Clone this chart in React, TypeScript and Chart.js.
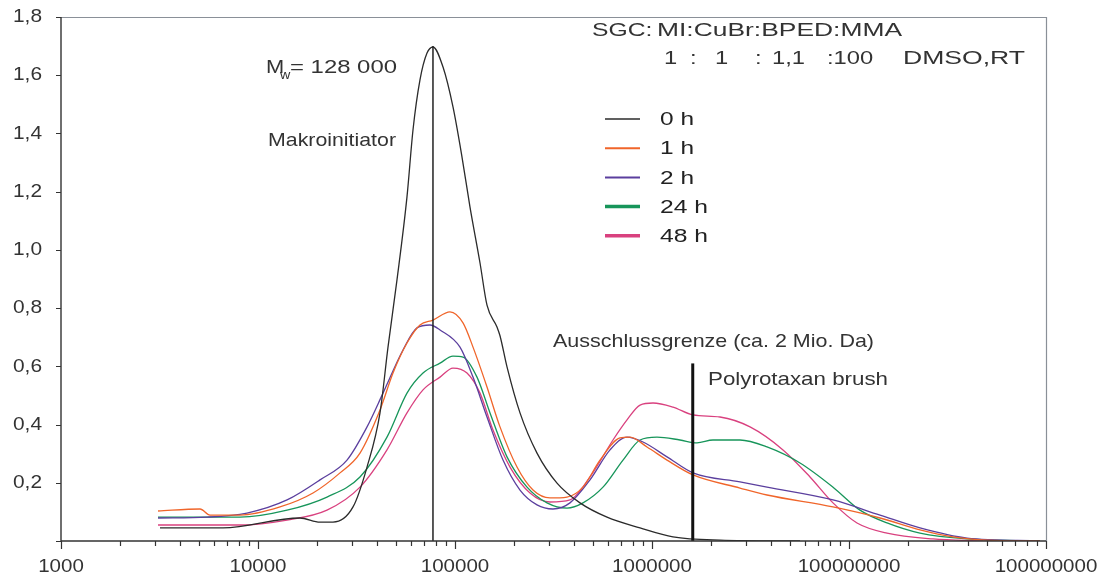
import React, { useEffect, useRef } from "react";
import { Chart, registerables } from "chart.js";

Chart.register(...registerables);

// ---------- data (molar mass in g/mol, detector signal) ----------
const massH0 = [3180, 6640, 16340, 20640, 24030, 30360, 35760, 41620, 45700, 50760, 57050, 61200, 66410, 72100, 77330, 86940, 97680, 108530, 119170, 133970, 145360, 163390, 169200, 183650, 213780, 260800, 329500, 431000, 591000, 869600, 1278000, 2214000, 5640000];
const valH0 = [0.045, 0.045, 0.079, 0.065, 0.065, 0.117, 0.254, 0.44, 0.666, 0.897, 1.182, 1.412, 1.584, 1.676, 1.697, 1.628, 1.491, 1.319, 1.147, 0.955, 0.81, 0.735, 0.705, 0.598, 0.44, 0.302, 0.199, 0.131, 0.082, 0.045, 0.014, 0.003, 0];

const massH1 = [3108, 5078, 5705, 8100, 12930, 19020, 26080, 32940, 41620, 48450, 57050, 66410, 77330, 94300, 109800, 123430, 145360, 169200, 206430, 248900, 303500, 370300, 446300, 544500, 688100, 773300, 943200, 1192000, 1615000, 2797000, 3835000, 8295000, 14370000, 22930000, 33730000, 50170000, 93200000];
const valH1 = [0.103, 0.11, 0.089, 0.089, 0.117, 0.165, 0.234, 0.302, 0.45, 0.577, 0.68, 0.742, 0.759, 0.787, 0.749, 0.666, 0.529, 0.392, 0.254, 0.175, 0.148, 0.151, 0.185, 0.278, 0.354, 0.357, 0.323, 0.278, 0.227, 0.182, 0.158, 0.117, 0.079, 0.038, 0.014, 0.003, 0];

const massH2 = [3108, 5510, 8795, 14040, 20640, 28300, 35760, 43110, 54450, 64150, 74660, 83950, 106020, 123430, 145360, 175290, 213780, 260800, 314400, 383500, 484500, 612100, 746700, 900600, 1192000, 1615000, 2797000, 3835000, 8295000, 14370000, 22930000, 39720000, 93200000];
const valH2 = [0.079, 0.082, 0.096, 0.141, 0.21, 0.278, 0.392, 0.508, 0.656, 0.732, 0.742, 0.725, 0.666, 0.563, 0.426, 0.278, 0.175, 0.124, 0.11, 0.131, 0.21, 0.313, 0.357, 0.34, 0.289, 0.234, 0.203, 0.185, 0.141, 0.089, 0.045, 0.01, 0];

const massH24 = [3108, 8100, 14040, 22400, 32940, 45160, 57050, 68800, 83950, 97680, 109800, 129320, 150560, 183650, 232100, 293100, 370300, 446300, 564000, 712600, 869600, 1060200, 1387000, 1692000, 2040000, 2797000, 3835000, 5640000, 8295000, 11370000, 15600000, 22930000, 39720000, 93200000];
const valH24 = [0.082, 0.082, 0.106, 0.151, 0.22, 0.357, 0.508, 0.577, 0.611, 0.635, 0.632, 0.563, 0.44, 0.289, 0.185, 0.131, 0.113, 0.131, 0.185, 0.278, 0.347, 0.357, 0.347, 0.337, 0.347, 0.347, 0.323, 0.268, 0.185, 0.106, 0.062, 0.027, 0.007, 0];

const massH48 = [3108, 8100, 14040, 22400, 32940, 45160, 57050, 68800, 83950, 97680, 115070, 133970, 155940, 190200, 240300, 303500, 383500, 484500, 633900, 746700, 869600, 1011800, 1278000, 1615000, 2214000, 3145000, 4624000, 6339000, 8295000, 10980000, 15600000, 26700000, 47880000];
const valH48 = [0.055, 0.055, 0.072, 0.106, 0.185, 0.313, 0.44, 0.519, 0.563, 0.594, 0.577, 0.508, 0.381, 0.254, 0.165, 0.134, 0.141, 0.22, 0.347, 0.416, 0.467, 0.474, 0.46, 0.433, 0.426, 0.392, 0.313, 0.22, 0.131, 0.062, 0.027, 0.007, 0];

const seriesLabels = ["0 h", "1 h", "2 h", "24 h", "48 h"];
const seriesColors = ["#2b2b2b", "#f0652a", "#5b3f9e", "#17955a", "#d9417f"];
const legendLineWidths = [1.5, 2, 2, 3.5, 3.5];

// marker lines
const mwLineMass = 77300;
const mwLineTop = 1.7;
const limitLineMass = 1610000;
const limitLineTop = 0.61;

// axis ticks
const xTickValues = [1000, 10000, 100000, 1000000, 10000000, 100000000];
const xTickLabels = ["1000", "10000", "100000", "1000000", "100000000", "100000000"];
const yTickValues = [0.2, 0.4, 0.6, 0.8, 1.0, 1.2, 1.4, 1.6, 1.8];
const yTickLabels = ["0,2", "0,4", "0,6", "0,8", "1,0", "1,2", "1,4", "1,6", "1,8"];

const FONT = '"Liberation Sans", Arial, Helvetica, sans-serif';

function drawStretched(ctx: CanvasRenderingContext2D, text: string, x: number, y: number, size: number, sx: number, align: string, color = "#333") {
  ctx.save();
  ctx.font = `${size}px ${FONT}`;
  ctx.fillStyle = color;
  ctx.textBaseline = "middle";
  ctx.textAlign = "left";
  const w = ctx.measureText(text).width * sx;
  const left = align === "center" ? x - w / 2 : align === "right" ? x - w : x;
  ctx.translate(left, y);
  ctx.scale(sx, 1);
  ctx.fillText(text, 0, 0);
  ctx.restore();
}

function drawFitted(ctx: CanvasRenderingContext2D, text: string, x: number, y: number, size: number, width: number, color = "#333") {
  ctx.save();
  ctx.font = `${size}px ${FONT}`;
  const w0 = ctx.measureText(text).width;
  ctx.restore();
  drawStretched(ctx, text, x, y, size, width / w0, "left", color);
}

const decorPlugin = {
  id: "decor",
  afterDraw(chart: any) {
    const ctx: CanvasRenderingContext2D = chart.ctx;
    const { left, right, top, bottom } = chart.chartArea;
    const xs = chart.scales.x;
    const ys = chart.scales.y;
    ctx.save();
    // frame (top / right)
    ctx.strokeStyle = "#8a9098";
    ctx.lineWidth = 1.2;
    ctx.beginPath();
    ctx.moveTo(left, top + 0.5);
    ctx.lineTo(right + 0.5, top + 0.5);
    ctx.lineTo(right + 0.5, bottom);
    ctx.stroke();
    // axes
    ctx.strokeStyle = "#333";
    ctx.lineWidth = 1.4;
    ctx.beginPath();
    ctx.moveTo(left, top);
    ctx.lineTo(left, bottom);
    ctx.lineTo(right, bottom);
    ctx.stroke();
    // y ticks
    ctx.lineWidth = 1.2;
    ctx.beginPath();
    for (let v = 0; v <= 1.8001; v += 0.2) {
      const py = Math.round(ys.getPixelForValue(v)) + 0.5;
      ctx.moveTo(left - 5, py);
      ctx.lineTo(left, py);
    }
    ctx.stroke();
    // x ticks
    ctx.beginPath();
    for (let d = 1000; d <= 100000000; d *= 10) {
      for (let k = 1; k <= 9; k++) {
        const v = k * d;
        if (v > 100000000) break;
        const px = Math.round(xs.getPixelForValue(v)) + 0.5;
        ctx.moveTo(px, bottom);
        ctx.lineTo(px, bottom + (k === 1 ? 8 : 5));
      }
    }
    ctx.stroke();
    ctx.restore();

    // tick labels
    yTickValues.forEach((v, i) => {
      drawStretched(ctx, yTickLabels[i], 42, ys.getPixelForValue(v), 19, 1.1, "right");
    });
    xTickValues.forEach((v, i) => {
      drawStretched(ctx, xTickLabels[i], xs.getPixelForValue(v), 567, 19, 1.08, "center");
    });

    // annotations
    drawStretched(ctx, "SGC:", 592, 31, 19, 1.3, "left");
    drawFitted(ctx, "MI:CuBr:BPED:MMA", 657, 31, 19, 245);
    drawStretched(ctx, "1", 664, 59, 19, 1.25, "left");
    drawStretched(ctx, ":", 690, 59, 19, 1.25, "left");
    drawStretched(ctx, "1", 715, 59, 19, 1.25, "left");
    drawStretched(ctx, ":", 755, 59, 19, 1.25, "left");
    drawStretched(ctx, "1,1", 772, 59, 19, 1.25, "left");
    drawStretched(ctx, ":100", 827, 59, 19, 1.25, "left");
    drawFitted(ctx, "DMSO,RT", 903, 59, 19, 122);

    drawStretched(ctx, "M", 266, 68, 19, 1.15, "left");
    drawStretched(ctx, "w", 280, 75, 13, 1.1, "left");
    drawFitted(ctx, "= 128 000", 290, 68, 19, 107);
    drawFitted(ctx, "Makroinitiator", 268, 141, 19, 128);
    drawFitted(ctx, "Ausschlussgrenze (ca. 2 Mio. Da)", 553, 342, 19, 321);
    drawFitted(ctx, "Polyrotaxan brush", 708, 380, 19, 180);

    // legend
    seriesLabels.forEach((lab, i) => {
      const y = 119 + i * 29.2;
      ctx.save();
      ctx.strokeStyle = seriesColors[i];
      ctx.lineWidth = legendLineWidths[i];
      ctx.beginPath();
      ctx.moveTo(605, y);
      ctx.lineTo(640, y);
      ctx.stroke();
      ctx.restore();
      drawFitted(ctx, lab, 660, y + 1, 19, lab.length > 3 ? 48 : 34, "#222");
    });
  },
};

export default function App() {
  const ref = useRef<HTMLCanvasElement | null>(null);
  useEffect(() => {
    if (!ref.current) return;
    const series = [
      [massH0, valH0],
      [massH1, valH1],
      [massH2, valH2],
      [massH24, valH24],
      [massH48, valH48],
    ];
    const datasets: any[] = series.map(([m, v], i) => ({
      label: seriesLabels[i],
      data: (m as number[]).map((x, j) => ({ x, y: (v as number[])[j] })),
      borderColor: seriesColors[i],
      borderWidth: 1.3,
      pointRadius: 0,
      fill: false,
      cubicInterpolationMode: "monotone",
    }));
    datasets.unshift(
      {
        label: "Mw",
        data: [{ x: mwLineMass, y: 0 }, { x: mwLineMass, y: mwLineTop }],
        borderColor: "#222",
        borderWidth: 1.5,
        pointRadius: 0,
        tension: 0,
      },
      {
        label: "limit",
        data: [{ x: limitLineMass, y: 0 }, { x: limitLineMass, y: limitLineTop }],
        borderColor: "#111",
        borderWidth: 3,
        pointRadius: 0,
        tension: 0,
      }
    );
    const chart = new Chart(ref.current, {
      type: "line",
      data: { datasets },
      options: {
        animation: false,
        responsive: false,
        layout: { padding: { top: 17, right: 70, left: 0, bottom: 0 } },
        plugins: { legend: { display: false }, tooltip: { enabled: false } },
        scales: {
          x: {
            type: "logarithmic",
            min: 1000,
            max: 100000000,
            grid: { display: false },
            border: { display: false },
            ticks: { display: false },
            afterFit: (s: any) => { s.height = 38; },
          },
          y: {
            min: 0,
            max: 1.8,
            grid: { display: false },
            border: { display: false },
            ticks: { display: false },
            afterFit: (s: any) => { s.width = 61; },
          },
        },
      },
      plugins: [decorPlugin],
    } as any);
    return () => chart.destroy();
  }, []);
  return (
    <div style={{ position: "absolute", left: 0, top: 0, width: 1116, height: 579, background: "#fff" }}>
      <canvas ref={ref} width={1116} height={579} style={{ display: "block" }} />
    </div>
  );
}
